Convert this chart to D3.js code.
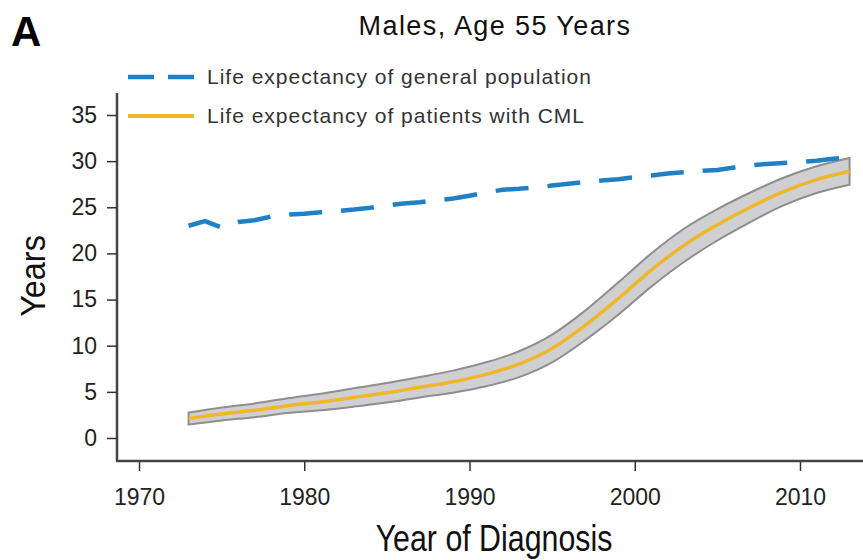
<!DOCTYPE html>
<meta charset="utf-8">
<style>
  body { margin: 0; background: #fff; }
  .tick text {
    font: 23px "Liberation Sans", Arial, sans-serif;
    fill: #222;
  }
  .tick line { stroke: #333; stroke-width: 1.5px; }
  .axis-line { stroke: #444; stroke-width: 2.5px; fill: none; }
  .label-narrow {
    font-family: "Liberation Sans", Arial, sans-serif;
    fill: #111;
  }
  .legend text {
    font: 21px "Liberation Sans", Arial, sans-serif;
    letter-spacing: 1px;
    fill: #333;
  }
  .band { fill: #d0d0d2; stroke: #8e8e8e; stroke-width: 2px; }
  .cml { fill: none; stroke: #efb82a; stroke-width: 3.5px; }
  .pop { fill: none; stroke: #1f80c6; stroke-width: 4.5px; stroke-dasharray: 33,19; }
</style>
<svg width="863" height="560"></svg>
<script src="https://cdn.jsdelivr.net/npm/d3@7"></script>
<script>
  // general population, yearly
  const popYears = d3.range(1973, 2014);
  const popValues = [23.0, 23.5, 22.8, 23.4, 23.6, 24.0, 24.2, 24.3, 24.45, 24.6,
    24.75, 24.95, 25.2, 25.4, 25.55, 25.75, 25.95, 26.25, 26.6, 26.9,
    27.0, 27.15, 27.35, 27.55, 27.75, 27.9, 28.05, 28.25, 28.45, 28.65,
    28.8, 28.95, 29.05, 29.3, 29.55, 29.7, 29.8, 29.9, 30.05, 30.25, 30.4];

  // CML patients, every 2 years, with confidence band
  const cmlYears = d3.range(1973, 2014, 2);
  const cmlValues = [2.1, 2.6, 3.0, 3.5, 3.9, 4.4, 4.9, 5.5, 6.1, 6.9,
    8.0, 9.7, 12.2, 15.1, 18.2, 20.9, 23.1, 25.0, 26.7, 28.0, 28.9];
  const cmlLower = [1.45, 1.9, 2.25, 2.7, 3.0, 3.4, 3.85, 4.4, 4.9, 5.6,
    6.6, 8.2, 10.6, 13.35, 16.4, 19.1, 21.4, 23.4, 25.2, 26.55, 27.45];
  const cmlUpper = [2.75, 3.3, 3.75, 4.3, 4.8, 5.4, 5.95, 6.6, 7.3, 8.2,
    9.4, 11.2, 13.8, 16.85, 20.0, 22.7, 24.8, 26.6, 28.2, 29.45, 30.35];

  const xTicks = [1970, 1980, 1990, 2000, 2010];
  const yTicks = [0, 5, 10, 15, 20, 25, 30, 35];

  const svg = d3.select("svg");

  const x = d3.scaleLinear().domain([1970, 2010]).range([139, 800]);
  const y = d3.scaleLinear().domain([0, 35]).range([438, 115]);

  // axis lines drawn apart from the tick groups (R style)
  svg.append("line").attr("class", "axis-line")
    .attr("x1", 117).attr("x2", 117).attr("y1", 93).attr("y2", 461);
  svg.append("line").attr("class", "axis-line")
    .attr("x1", 116).attr("x2", 863).attr("y1", 461).attr("y2", 461);

  svg.append("g")
    .attr("transform", "translate(0,461)")
    .call(d3.axisBottom(x).tickValues(xTicks).tickFormat(d3.format("d"))
      .tickSize(10).tickPadding(18))
    .call(g => g.select(".domain").remove());

  svg.append("g")
    .attr("transform", "translate(117,0)")
    .call(d3.axisLeft(y).tickValues(yTicks).tickSize(10).tickPadding(10))
    .call(g => g.select(".domain").remove());

  const cml = cmlYears.map((yr, i) => ({yr, v: cmlValues[i], lo: cmlLower[i], hi: cmlUpper[i]}));
  const pop = popYears.map((yr, i) => ({yr, v: popValues[i]}));

  svg.append("path")
    .datum(cml)
    .attr("class", "band")
    .attr("d", d3.area()
      .curve(d3.curveMonotoneX)
      .x(d => x(d.yr))
      .y0(d => y(d.lo))
      .y1(d => y(d.hi)));

  svg.append("path")
    .datum(cml)
    .attr("class", "cml")
    .attr("d", d3.line()
      .curve(d3.curveMonotoneX)
      .x(d => x(d.yr))
      .y(d => y(d.v)));

  svg.append("path")
    .datum(pop)
    .attr("class", "pop")
    .attr("d", d3.line()
      .x(d => x(d.yr))
      .y(d => y(d.v)));

  // legend
  const legend = svg.append("g").attr("class", "legend");
  legend.append("line")
    .attr("x1", 128).attr("x2", 194).attr("y1", 77).attr("y2", 77)
    .attr("stroke", "#1f80c6").attr("stroke-width", 4.5)
    .attr("stroke-dasharray", "26,14");
  legend.append("text").attr("x", 207).attr("y", 84)
    .text("Life expectancy of general population");
  legend.append("line")
    .attr("x1", 128).attr("x2", 194).attr("y1", 116).attr("y2", 116)
    .attr("stroke", "#efb82a").attr("stroke-width", 4);
  legend.append("text").attr("x", 207).attr("y", 123)
    .text("Life expectancy of patients with CML");

  // titles
  svg.append("text")
    .attr("x", 495).attr("y", 35)
    .attr("text-anchor", "middle")
    .style("font", "27px 'Liberation Sans', Arial, sans-serif")
    .style("letter-spacing", "1.4px")
    .style("fill", "#111")
    .text("Males, Age 55 Years");

  svg.append("text")
    .attr("x", 11).attr("y", 46)
    .style("font", "bold 42px 'Liberation Sans', Arial, sans-serif")
    .style("fill", "#000")
    .text("A");

  // condensed look: squeeze regular sans horizontally
  svg.append("text")
    .attr("class", "label-narrow")
    .attr("transform", "translate(494,551) scale(0.82,1)")
    .attr("text-anchor", "middle")
    .style("font-size", "37px")
    .text("Year of Diagnosis");

  svg.append("text")
    .attr("class", "label-narrow")
    .attr("transform", "translate(45,276) rotate(-90) scale(0.9,1)")
    .attr("text-anchor", "middle")
    .style("font-size", "36px")
    .text("Years");
</script>
